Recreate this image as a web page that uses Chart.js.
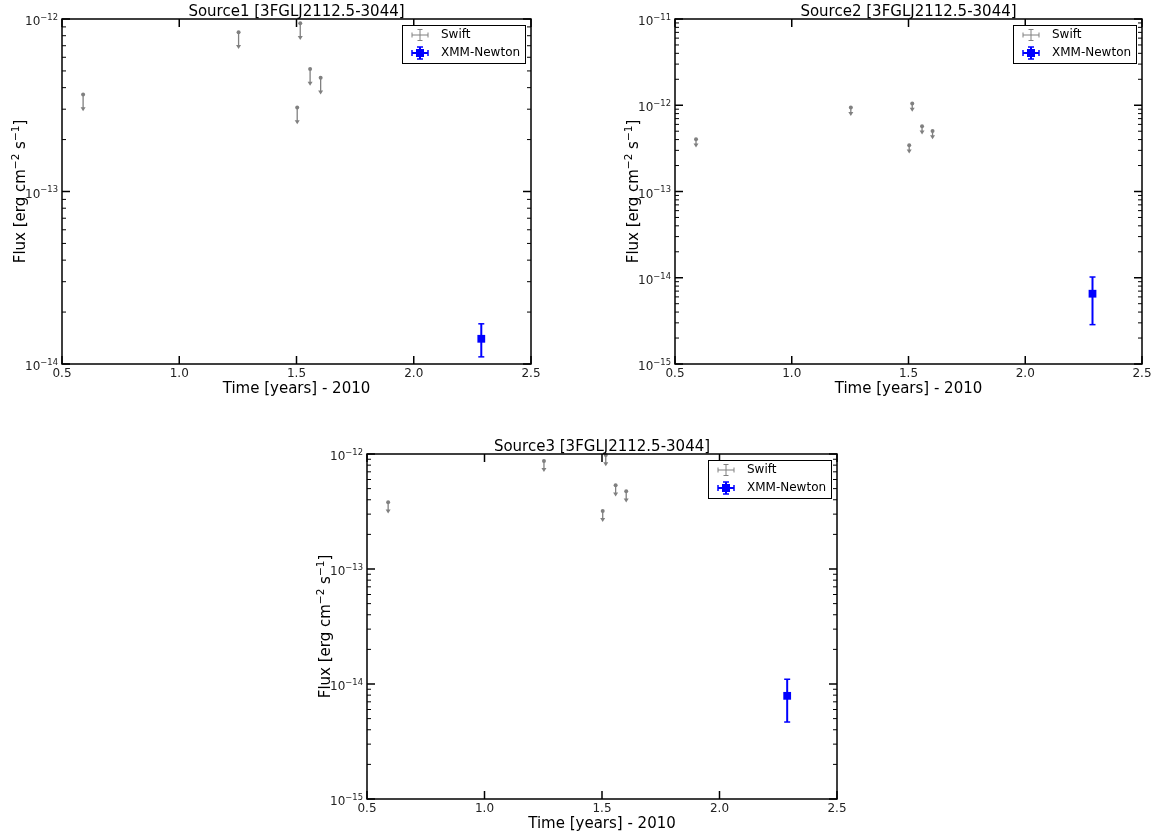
<!DOCTYPE html>
<html>
<head>
<meta charset="utf-8">
<script src="https://cdn.jsdelivr.net/npm/chart.js@4.4.1/dist/chart.umd.min.js"></script>
<style>
  body { margin: 0; background: #fff; }
  #wrap { position: relative; width: 1157px; height: 835px; overflow: hidden; }
  canvas { position: absolute; left: 0; top: 0; }
</style>
</head>
<body>
<div id="wrap"></div>
<script>
// Swift upper limits and XMM-Newton detections, time in years since 2010
const swiftTime = [0.590, 1.253, 1.503, 1.516, 1.558, 1.603];
const swiftLimit1 = [3.65e-13, 8.37e-13, 3.07e-13, 9.44e-13, 5.13e-13, 4.57e-13];
const swiftLimit2 = [4.04e-13, 9.40e-13, 3.44e-13, 1.05e-12, 5.71e-13, 5.04e-13];
const swiftLimit3 = [3.80e-13, 8.70e-13, 3.20e-13, 9.80e-13, 5.35e-13, 4.74e-13];

const xmmTime = [2.288];
const xmmFlux1 = [1.40e-14];
const xmmLow1 = [1.10e-14];
const xmmHigh1 = [1.71e-14];
const xmmFlux2 = [6.53e-15];
const xmmLow2 = [2.86e-15];
const xmmHigh2 = [1.02e-14];
const xmmFlux3 = [7.89e-15];
const xmmLow3 = [4.67e-15];
const xmmHigh3 = [1.10e-14];

const timeTicks = [0.5, 1.0, 1.5, 2.0, 2.5];
const fluxDecades1 = [-14, -13, -12];
const fluxDecades2 = [-15, -14, -13, -12, -11];
const fluxDecades3 = [-15, -14, -13, -12];

const sourceNames = ['Source1 [3FGLJ2112.5-3044]', 'Source2 [3FGLJ2112.5-3044]', 'Source3 [3FGLJ2112.5-3044]'];
const seriesNames = ['Swift', 'XMM-Newton'];

const GRAY = '#808080';
const BLUE = '#0000ff';
const FONT = '"DejaVu Sans", sans-serif';
const W = 1157, H = 835;
const LIMIT_ARROW = 0.8; // upper-limit arrows reach down to 80% of the limit

// plot box of each panel on the page: left, top, right, bottom
const panels = [
  { box: [62, 19, 531, 364], title: sourceNames[0], swift: swiftLimit1, xmm: xmmFlux1, lo: xmmLow1, hi: xmmHigh1, decades: fluxDecades1 },
  { box: [675, 19, 1142, 364], title: sourceNames[1], swift: swiftLimit2, xmm: xmmFlux2, lo: xmmLow2, hi: xmmHigh2, decades: fluxDecades2 },
  { box: [367, 454, 837, 799], title: sourceNames[2], swift: swiftLimit3, xmm: xmmFlux3, lo: xmmLow3, hi: xmmHigh3, decades: fluxDecades3 },
];

function line(ctx, x0, y0, x1, y1) {
  ctx.beginPath();
  ctx.moveTo(x0, y0);
  ctx.lineTo(x1, y1);
  ctx.stroke();
}

// text made of plain and superscript pieces, laid out from x along the baseline
function drawRich(ctx, parts, x, y, size) {
  let cx = x;
  parts.forEach(([txt, sup]) => {
    ctx.font = (sup ? size * 0.7 : size) + 'px ' + FONT;
    ctx.fillText(txt, cx, sup ? y - size * 0.42 : y);
    cx += ctx.measureText(txt).width;
  });
}
function richWidth(ctx, parts, size) {
  let w = 0;
  parts.forEach(([txt, sup]) => {
    ctx.font = (sup ? size * 0.7 : size) + 'px ' + FONT;
    w += ctx.measureText(txt).width;
  });
  return w;
}

function decor(p) {
  return {
    id: 'decor',
    beforeDatasetsDraw(chart) {
      const ctx = chart.ctx, xs = chart.scales.x, ys = chart.scales.y;
      ctx.save();
      // Swift upper limits
      ctx.strokeStyle = GRAY;
      ctx.fillStyle = GRAY;
      ctx.lineWidth = 1.3;
      swiftTime.forEach((t, i) => {
        const x = xs.getPixelForValue(t);
        const y0 = ys.getPixelForValue(p.swift[i]);
        const y1 = ys.getPixelForValue(p.swift[i] * LIMIT_ARROW);
        line(ctx, x, y0, x, y1 - 2);
        ctx.beginPath();
        ctx.moveTo(x - 2.5, y1 - 4);
        ctx.lineTo(x + 2.5, y1 - 4);
        ctx.lineTo(x, y1);
        ctx.closePath();
        ctx.fill();
      });
      // XMM-Newton error bar
      ctx.strokeStyle = BLUE;
      xmmTime.forEach((t, i) => {
        const x = xs.getPixelForValue(t);
        const yl = ys.getPixelForValue(p.lo[i]);
        const yh = ys.getPixelForValue(p.hi[i]);
        ctx.lineWidth = 2;
        line(ctx, x, yl, x, yh);
        ctx.lineWidth = 1.5;
        line(ctx, x - 3, yl, x + 3, yl);
        line(ctx, x - 3, yh, x + 3, yh);
      });
      ctx.restore();
    },
    afterDatasetsDraw(chart) {
      const ctx = chart.ctx, xs = chart.scales.x, ys = chart.scales.y;
      const { left, right, top, bottom } = chart.chartArea;
      ctx.save();
      ctx.strokeStyle = '#000';
      ctx.fillStyle = '#000';

      // inward ticks on all four sides
      const first = p.decades[0], last = p.decades[p.decades.length - 1];
      for (let d = first; d <= last; d++) {
        const y = ys.getPixelForValue(Math.pow(10, d));
        ctx.lineWidth = 1.5;
        line(ctx, left, y, left + 8, y);
        line(ctx, right, y, right - 8, y);
        if (d < last) {
          ctx.lineWidth = 1;
          for (let m = 2; m <= 9; m++) {
            const ym = ys.getPixelForValue(m * Math.pow(10, d));
            line(ctx, left, ym, left + 4, ym);
            line(ctx, right, ym, right - 4, ym);
          }
        }
      }
      ctx.lineWidth = 1.5;
      timeTicks.forEach(t => {
        const x = xs.getPixelForValue(t);
        line(ctx, x, bottom, x, bottom - 8);
        line(ctx, x, top, x, top + 8);
      });
      ctx.lineWidth = 1.5;
      ctx.strokeRect(left, top, right - left, bottom - top);

      // tick labels
      ctx.fillStyle = '#222';
      ctx.font = '12px ' + FONT;
      ctx.textAlign = 'center';
      ctx.textBaseline = 'top';
      timeTicks.forEach(t => ctx.fillText(t.toFixed(1), xs.getPixelForValue(t), bottom + 4));
      ctx.textAlign = 'left';
      ctx.textBaseline = 'alphabetic';
      p.decades.forEach(d => {
        const parts = [['10', false], ['\u2212' + Math.abs(d), true]];
        const w = richWidth(ctx, parts, 12);
        drawRich(ctx, parts, left - 4 - w, ys.getPixelForValue(Math.pow(10, d)) + 6, 12);
      });

      // titles
      ctx.fillStyle = '#000';
      ctx.font = '15px ' + FONT;
      ctx.textAlign = 'center';
      ctx.textBaseline = 'alphabetic';
      ctx.fillText(p.title, (left + right) / 2, top - 3);
      ctx.textBaseline = 'middle';
      ctx.fillText('Time [years] - 2010', (left + right) / 2, bottom + 25);

      const yParts = [['Flux [erg cm', false], ['\u22122', true], [' s', false], ['\u22121', true], [']', false]];
      ctx.save();
      ctx.translate(left - 42, (top + bottom) / 2);
      ctx.rotate(-Math.PI / 2);
      ctx.textAlign = 'left';
      ctx.textBaseline = 'alphabetic';
      const yw = richWidth(ctx, yParts, 15);
      drawRich(ctx, yParts, -yw / 2, 5, 15);
      ctx.restore();

      // legend box
      const lw = 123, lh = 38;
      const lx = Math.round(right - 6 - lw), ly = Math.round(top + 6);
      ctx.fillStyle = '#fff';
      ctx.fillRect(lx, ly, lw, lh);
      ctx.strokeStyle = '#000';
      ctx.lineWidth = 1;
      ctx.strokeRect(lx + 0.5, ly + 0.5, lw, lh);

      const ix = lx + 18;
      let iy = ly + 10;
      ctx.strokeStyle = GRAY;
      ctx.lineWidth = 1;
      line(ctx, ix - 8, iy, ix + 8, iy);
      line(ctx, ix - 8, iy - 2.5, ix - 8, iy + 2.5);
      line(ctx, ix + 8, iy - 2.5, ix + 8, iy + 2.5);
      line(ctx, ix, iy - 5.5, ix, iy + 5.5);
      line(ctx, ix - 2.5, iy - 5.5, ix + 2.5, iy - 5.5);
      line(ctx, ix - 2.5, iy + 5.5, ix + 2.5, iy + 5.5);

      iy = ly + 28;
      ctx.strokeStyle = BLUE;
      ctx.fillStyle = BLUE;
      ctx.lineWidth = 2;
      line(ctx, ix - 8, iy, ix + 8, iy);
      line(ctx, ix, iy - 6, ix, iy + 6);
      ctx.lineWidth = 1.5;
      line(ctx, ix - 8, iy - 3, ix - 8, iy + 3);
      line(ctx, ix + 8, iy - 3, ix + 8, iy + 3);
      line(ctx, ix - 3, iy - 6, ix + 3, iy - 6);
      line(ctx, ix - 3, iy + 6, ix + 3, iy + 6);
      ctx.fillRect(ix - 4, iy - 4, 8, 8);

      ctx.fillStyle = '#000';
      ctx.font = '12px ' + FONT;
      ctx.textAlign = 'left';
      ctx.textBaseline = 'middle';
      ctx.fillText(seriesNames[0], lx + 39, ly + 10);
      ctx.fillText(seriesNames[1], lx + 39, ly + 28);
      ctx.restore();
    }
  };
}

panels.forEach(p => {
  const canvas = document.createElement('canvas');
  canvas.width = W;
  canvas.height = H;
  document.getElementById('wrap').appendChild(canvas);

  const first = p.decades[0], last = p.decades[p.decades.length - 1];
  new Chart(canvas, {
    type: 'scatter',
    data: {
      datasets: [
        {
          label: seriesNames[0],
          data: swiftTime.map((t, i) => ({ x: t, y: p.swift[i] })),
          pointRadius: 2,
          pointBackgroundColor: GRAY,
          pointBorderWidth: 0,
          clip: false,
        },
        {
          label: seriesNames[1],
          data: xmmTime.map((t, i) => ({ x: t, y: p.xmm[i] })),
          pointStyle: 'rect',
          pointRadius: 5.5,
          pointBackgroundColor: BLUE,
          pointBorderColor: BLUE,
          pointBorderWidth: 0,
          clip: false,
        },
      ],
    },
    options: {
      responsive: false,
      animation: false,
      devicePixelRatio: 1,
      events: [],
      layout: {
        padding: { left: p.box[0], top: p.box[1], right: W - p.box[2], bottom: H - p.box[3] },
      },
      plugins: {
        legend: { display: false },
        tooltip: { enabled: false },
      },
      scales: {
        x: { type: 'linear', min: timeTicks[0], max: timeTicks[timeTicks.length - 1], display: false },
        y: { type: 'logarithmic', min: Math.pow(10, first), max: Math.pow(10, last), display: false },
      },
    },
    plugins: [decor(p)],
  });
});
</script>
</body>
</html>
